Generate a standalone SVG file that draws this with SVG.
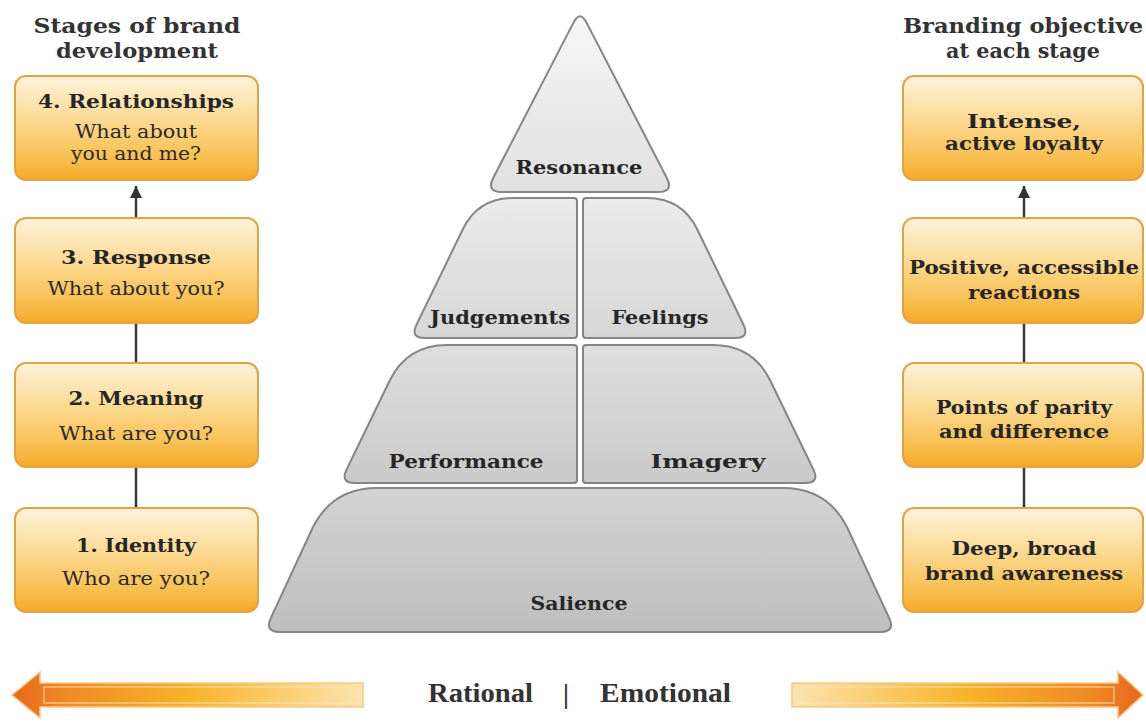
<svg xmlns="http://www.w3.org/2000/svg" width="1146" height="724" viewBox="0 0 1146 724">
<defs>
<linearGradient id="boxG" x1="0" y1="0" x2="0" y2="1">
<stop offset="0" stop-color="#fdf2dc"/>
<stop offset="0.35" stop-color="#fcdf9f"/>
<stop offset="0.75" stop-color="#f9c257"/>
<stop offset="1" stop-color="#f5a82a"/>
</linearGradient>
<linearGradient id="g1" x1="0" y1="0" x2="0" y2="1"><stop offset="0" stop-color="#f6f6f6"/><stop offset="1" stop-color="#e0e0e0"/></linearGradient>
<linearGradient id="g2" x1="0" y1="0" x2="0" y2="1"><stop offset="0" stop-color="#ebebeb"/><stop offset="1" stop-color="#d6d6d6"/></linearGradient>
<linearGradient id="g3" x1="0" y1="0" x2="0" y2="1"><stop offset="0" stop-color="#dedede"/><stop offset="1" stop-color="#cacaca"/></linearGradient>
<linearGradient id="g4" x1="0" y1="0" x2="0" y2="1"><stop offset="0" stop-color="#d3d3d3"/><stop offset="1" stop-color="#bebebe"/></linearGradient>
<linearGradient id="arrL" x1="0" y1="0" x2="1" y2="0">
<stop offset="0" stop-color="#e8671c"/><stop offset="0.15" stop-color="#ef8a24"/><stop offset="0.5" stop-color="#f7b328"/><stop offset="1" stop-color="#fde3ae"/>
</linearGradient>
<linearGradient id="arrR" x1="1" y1="0" x2="0" y2="0">
<stop offset="0" stop-color="#e8671c"/><stop offset="0.15" stop-color="#ef8a24"/><stop offset="0.5" stop-color="#f7b328"/><stop offset="1" stop-color="#fde3ae"/>
</linearGradient>
<marker id="ah" viewBox="0 0 10 10" refX="10" refY="5" markerUnits="userSpaceOnUse" markerWidth="14" markerHeight="12" orient="auto">
<path d="M0,0 L10,5 L0,10 z" fill="#333"/>
</marker>
<style>
.box{fill:url(#boxG);stroke:#e2a440;stroke-width:2}
.tier{stroke:#858585;stroke-width:2}
.hd{font-family:"DejaVu Serif","Liberation Serif",serif;font-weight:bold;font-size:21px;fill:#333;text-anchor:middle}
.bt{font-family:"DejaVu Serif","Liberation Serif",serif;font-weight:bold;font-size:19px;fill:#262626;text-anchor:middle}
.st{font-family:"DejaVu Serif","Liberation Serif",serif;font-size:18px;fill:#2a2a2a;text-anchor:middle}
.pl{font-family:"DejaVu Serif","Liberation Serif",serif;font-weight:bold;font-size:19px;fill:#262626;text-anchor:middle}
.ax{font-family:"Liberation Serif",serif;font-weight:bold;font-size:27px;fill:#333}
.conn{stroke:#3a3a3a;stroke-width:2.5;fill:none}
.arr{stroke:#f6c98a;stroke-width:1.5}
</style>
</defs>
<rect width="1146" height="724" fill="#ffffff"/>

<g id="headings">
<text class="hd" x="137" y="33" textLength="207" lengthAdjust="spacingAndGlyphs">Stages of brand</text>
<text class="hd" x="137" y="58" textLength="162" lengthAdjust="spacingAndGlyphs">development</text>
<text class="hd" x="1023" y="33" textLength="240" lengthAdjust="spacingAndGlyphs">Branding objective</text>
<text class="hd" x="1023" y="58" textLength="154" lengthAdjust="spacingAndGlyphs">at each stage</text>
</g>

<g id="connectors">
<line class="conn" x1="136" y1="218" x2="136" y2="186" marker-end="url(#ah)"/>
<line class="conn" x1="136" y1="323" x2="136" y2="363"/>
<line class="conn" x1="136" y1="467" x2="136" y2="508"/>
<line class="conn" x1="1024" y1="218" x2="1024" y2="186" marker-end="url(#ah)"/>
<line class="conn" x1="1024" y1="323" x2="1024" y2="363"/>
<line class="conn" x1="1024" y1="467" x2="1024" y2="508"/>
</g>

<g id="stage4">
<rect class="box" x="15" y="76" width="243" height="104" rx="11"/>
<text class="bt" x="136" y="108" textLength="196" lengthAdjust="spacingAndGlyphs">4. Relationships</text>
<text class="st" x="136" y="138" textLength="122" lengthAdjust="spacingAndGlyphs">What about</text>
<text class="st" x="136" y="160" textLength="130" lengthAdjust="spacingAndGlyphs">you and me?</text>
</g>
<g id="stage3">
<rect class="box" x="15" y="218" width="243" height="105" rx="11"/>
<text class="bt" x="136" y="264" textLength="150" lengthAdjust="spacingAndGlyphs">3. Response</text>
<text class="st" x="136" y="295" textLength="177" lengthAdjust="spacingAndGlyphs">What about you?</text>
</g>
<g id="stage2">
<rect class="box" x="15" y="363" width="243" height="104" rx="11"/>
<text class="bt" x="136" y="405" textLength="135" lengthAdjust="spacingAndGlyphs">2. Meaning</text>
<text class="st" x="136" y="440" textLength="154" lengthAdjust="spacingAndGlyphs">What are you?</text>
</g>
<g id="stage1">
<rect class="box" x="15" y="508" width="243" height="104" rx="11"/>
<text class="bt" x="136" y="552" textLength="120" lengthAdjust="spacingAndGlyphs">1. Identity</text>
<text class="st" x="136" y="585" textLength="148" lengthAdjust="spacingAndGlyphs">Who are you?</text>
</g>

<g id="objective4">
<rect class="box" x="903" y="76" width="240" height="104" rx="11"/>
<text class="bt" x="1024" y="128" textLength="114" lengthAdjust="spacingAndGlyphs">Intense,</text>
<text class="bt" x="1024" y="150" textLength="158" lengthAdjust="spacingAndGlyphs">active loyalty</text>
</g>
<g id="objective3">
<rect class="box" x="903" y="218" width="240" height="105" rx="11"/>
<text class="bt" x="1024" y="274" textLength="230" lengthAdjust="spacingAndGlyphs">Positive, accessible</text>
<text class="bt" x="1024" y="299" textLength="112" lengthAdjust="spacingAndGlyphs">reactions</text>
</g>
<g id="objective2">
<rect class="box" x="903" y="363" width="240" height="104" rx="11"/>
<text class="bt" x="1024" y="414" textLength="176" lengthAdjust="spacingAndGlyphs">Points of parity</text>
<text class="bt" x="1024" y="438" textLength="170" lengthAdjust="spacingAndGlyphs">and difference</text>
</g>
<g id="objective1">
<rect class="box" x="903" y="508" width="240" height="104" rx="11"/>
<text class="bt" x="1024" y="555" textLength="145" lengthAdjust="spacingAndGlyphs">Deep, broad</text>
<text class="bt" x="1024" y="580" textLength="198" lengthAdjust="spacingAndGlyphs">brand awareness</text>
</g>

<g id="resonance">
<path class="tier" fill="url(#g1)" d="M573.6,22.4 Q580,10 586.4,22.4 L666.7,177.8 Q674,192 658,192 L502,192 Q486,192 493.3,177.8 Z"/>
<text class="pl" x="579" y="174" textLength="127" lengthAdjust="spacingAndGlyphs">Resonance</text>
</g>
<g id="judgements">
<path class="tier" fill="url(#g2)" d="M513,198 L574,198 Q577,198 577,201 L577,335 Q577,338 574,338 L425,338 Q410,338 416.6,324.5 L462.7,229.5 Q478,198 513,198 Z"/>
<text class="pl" x="500" y="324" textLength="140" lengthAdjust="spacingAndGlyphs">Judgements</text>
</g>
<g id="feelings">
<path class="tier" fill="url(#g2)" d="M583,201 Q583,198 586,198 L647,198 Q682,198 697.3,229.5 L743.4,324.5 Q750,338 735,338 L586,338 Q583,338 583,335 Z"/>
<text class="pl" x="660" y="324" textLength="97" lengthAdjust="spacingAndGlyphs">Feelings</text>
</g>
<g id="performance">
<path class="tier" fill="url(#g3)" d="M447,345 L574,345 Q577,345 577,348 L577,480 Q577,483 574,483 L355,483 Q340,483 346.6,469.5 L389.5,381 Q407,345 447,345 Z"/>
<text class="pl" x="466" y="468" textLength="155" lengthAdjust="spacingAndGlyphs">Performance</text>
</g>
<g id="imagery">
<path class="tier" fill="url(#g3)" d="M583,348 Q583,345 586,345 L713,345 Q753,345 770.5,381 L813.4,469.5 Q820,483 805,483 L586,483 Q583,483 583,480 Z"/>
<text class="pl" x="708" y="468" textLength="115" lengthAdjust="spacingAndGlyphs">Imagery</text>
</g>
<g id="salience">
<path class="tier" fill="url(#g4)" d="M377,488 L783,488 Q828,488 847.7,528.5 L889,617.6 Q896,632 880,632 L280,632 Q264,632 271,617.6 L312.3,528.5 Q332,488 377,488 Z"/>
<text class="pl" x="579" y="610" textLength="97" lengthAdjust="spacingAndGlyphs">Salience</text>
</g>

<g id="axis">
<path class="arr" fill="url(#arrL)" d="M12,695 L40,672 L40,683 L363,683 L363,707 L40,707 L40,718 Z"/>
<rect x="44" y="687" width="315" height="16" fill="none" stroke="#fde8bd" stroke-opacity="0.6" stroke-width="1.5"/>
<path class="arr" fill="url(#arrR)" d="M1143,695 L1118,672 L1118,683 L792,683 L792,707 L1118,707 L1118,718 Z"/>
<rect x="796" y="687" width="318" height="16" fill="none" stroke="#fde8bd" stroke-opacity="0.6" stroke-width="1.5"/>
<text class="ax" x="428" y="702" textLength="105" lengthAdjust="spacingAndGlyphs">Rational</text>
<text class="ax" x="566" y="703" text-anchor="middle" font-weight="normal">|</text>
<text class="ax" x="600" y="702" textLength="131" lengthAdjust="spacingAndGlyphs">Emotional</text>
</g>
</svg>
